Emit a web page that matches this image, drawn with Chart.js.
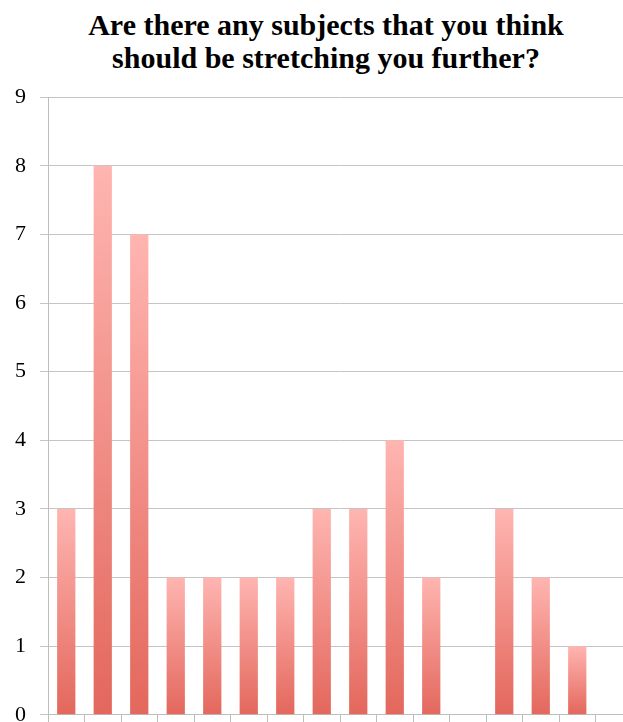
<!DOCTYPE html>
<html>
<head>
<meta charset="utf-8">
<script src="https://cdn.jsdelivr.net/npm/chart.js@4"></script>
<style>
    html, body { margin: 0; padding: 0; background: #fff; overflow: hidden; }
    #title { position: absolute; left: 0; top: 8px; width: 652px; text-align: center;
             font-family: "Liberation Serif", serif; font-weight: bold; font-size: 30px; line-height: 33px; color: #000; }
    #wrap { position: absolute; left: 0; top: 70px; width: 632px; height: 672px; }
</style>
</head>
<body>
<div id="title">Are there any subjects that you think<br>should be stretching you further?</div>
<div id="wrap"><canvas id="subjectsChart"></canvas></div>
<script>
// Chart values (the 16th category is cropped at the right edge)
const categories = ['', '', '', '', '', '', '', '', '', '', '', '', '', '', '', ''];
const counts = [3, 8, 7, 2, 2, 2, 2, 3, 3, 4, 2, 0, 3, 2, 1, 0];
const yTicks = [0, 1, 2, 3, 4, 5, 6, 7, 8, 9];

// Light pink at the top of each bar, darker red at its base
function barGradient(context) {
    const chart = context.chart;
    const yScale = chart.scales.y;
    if (!chart.chartArea || !yScale) {
        return '#f08a82';
    }
    const top = yScale.getPixelForValue(context.raw);
    const base = yScale.getPixelForValue(0);
    if (!isFinite(top) || !isFinite(base) || top === base) {
        return '#f08a82';
    }
    const grad = chart.ctx.createLinearGradient(0, top, 0, base);
    grad.addColorStop(0, '#ffb5b1');
    grad.addColorStop(1, '#e3675c');
    return grad;
}

const data = {
    labels: categories,
    datasets: [{
        label: 'Subjects',
        data: counts,
        backgroundColor: barGradient,
        borderWidth: 0,
        barPercentage: 0.5,
        categoryPercentage: 1.0
    }]
};

const config = {
    type: 'bar',
    data: data,
    options: {
        responsive: false,
        animation: false,
        maintainAspectRatio: false,
        layout: { padding: { top: 4, right: 0, bottom: 0, left: 0 } },
        plugins: {
            legend: { display: false },
            tooltip: { enabled: false },
            title: { display: false }
        },
        scales: {
            x: {
                afterFit: (axis) => { axis.height = 22; },
                grid: {
                    display: true,
                    drawOnChartArea: false,
                    drawTicks: true,
                    tickLength: 8,
                    offset: true,
                    color: '#bdbdbd',
                    lineWidth: 1
                },
                border: { display: true, color: '#bdbdbd', width: 1 },
                ticks: { display: true, maxRotation: 0, autoSkip: false, font: { size: 1 }, padding: 0 }
            },
            y: {
                min: 0,
                max: 9,
                afterBuildTicks: (axis) => { axis.ticks = yTicks.map(v => ({ value: v })); },
                afterFit: (axis) => { axis.width = 48; },
                grid: {
                    color: '#c4c4c4',
                    lineWidth: 1,
                    tickLength: 8
                },
                border: { display: true, color: '#bdbdbd', width: 1 },
                ticks: {
                    color: '#000',
                    padding: 14,
                    font: { family: '"Liberation Serif", serif', size: 22 }
                }
            }
        }
    }
};

const canvas = document.getElementById('subjectsChart');
canvas.width = 632;
canvas.height = 672;
window.myChart = new Chart(canvas.getContext('2d'), config);
</script>
</body>
</html>
